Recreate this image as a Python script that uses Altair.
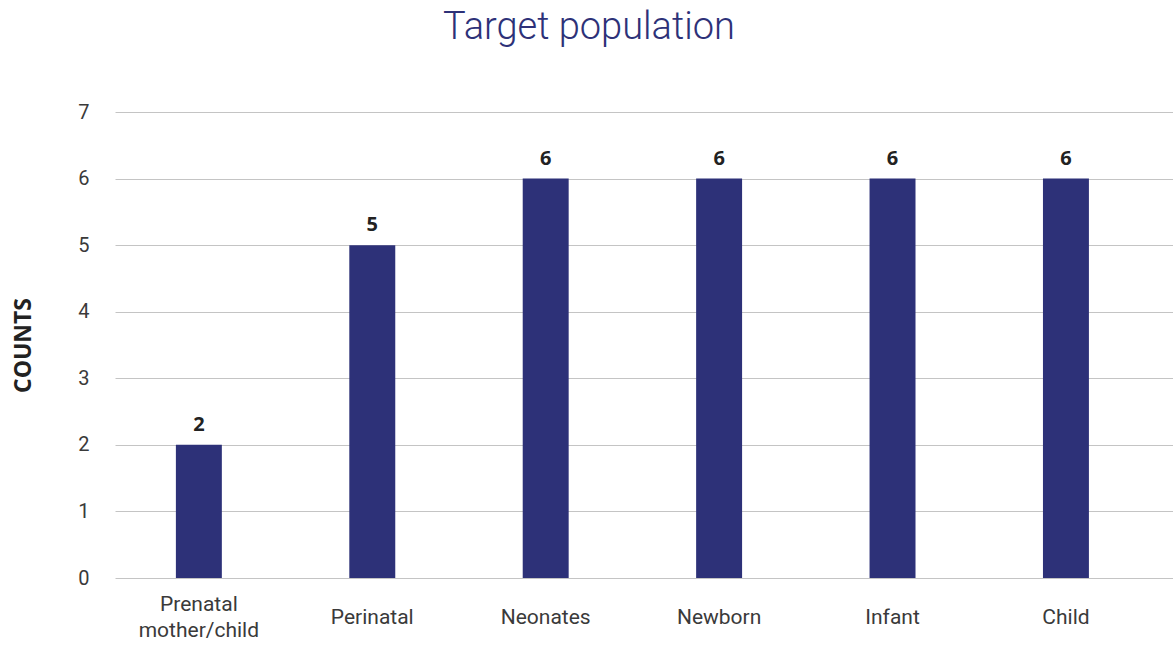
import altair as alt
import pandas as pd

categories = ["Prenatal\nmother/child", "Perinatal", "Neonates", "Newborn", "Infant", "Child"]
counts = [2, 5, 6, 6, 6, 6]

df = pd.DataFrame({"cat": categories, "count": counts})

BAR = "#2d3178"

x = alt.X("cat:N", sort=categories, title=None,
          scale=alt.Scale(paddingInner=0.735, paddingOuter=0.418, align=0.42),
          axis=alt.Axis(labelAngle=0, labelExpr="split(datum.label, '\\n')",
                        labelFont="Roboto", labelFontSize=21, labelFontWeight=400,
                        labelColor="#3a3a3a",
                        labelBaseline="middle",
                        labelPadding={"condition": {"test": "indexof(datum.label, '\\n') >= 0", "value": 26}, "value": 39},
                        ticks=False, domain=False, grid=False, labelLineHeight=26))
y = alt.Y("count:Q", title="COUNTS",
          scale=alt.Scale(domain=[0, 7]),
          axis=alt.Axis(values=[0, 1, 2, 3, 4, 5, 6, 7], format="d",
                        labelFont="Roboto", labelFontSize=20, labelFontWeight=400,
                        labelColor="#3a3a3a",
                        labelPadding=26, ticks=False, domain=False,
                        gridColor="#c4c4c4", gridWidth=1,
                        titleFont="Open Sans", titleFontSize=23, titleFontWeight="bold",
                        titleColor="#222222", titlePadding=42))

bars = alt.Chart(df).mark_bar(color=BAR).encode(x=x, y=y)
text = alt.Chart(df).mark_text(font="Open Sans", fontSize=20, fontWeight="bold",
                               color="#222222", baseline="bottom", dy=-10).encode(
    x=alt.X("cat:N", sort=categories), y="count:Q", text="count:Q")

chart = alt.layer(bars, text).properties(
    width=1058, height=466,
    title=alt.TitleParams("Target population", font="Roboto", fontSize=38,
                          fontWeight=300, color=BAR, anchor="middle", dx=-55,
                          offset=55),
    padding={"left": 115, "top": 112, "right": 0, "bottom": 68},
    autosize=alt.AutoSizeParams(type="none"),
).configure_view(stroke=None)

chart.save("out.html", embed_options={"renderer": "svg", "actions": False})
